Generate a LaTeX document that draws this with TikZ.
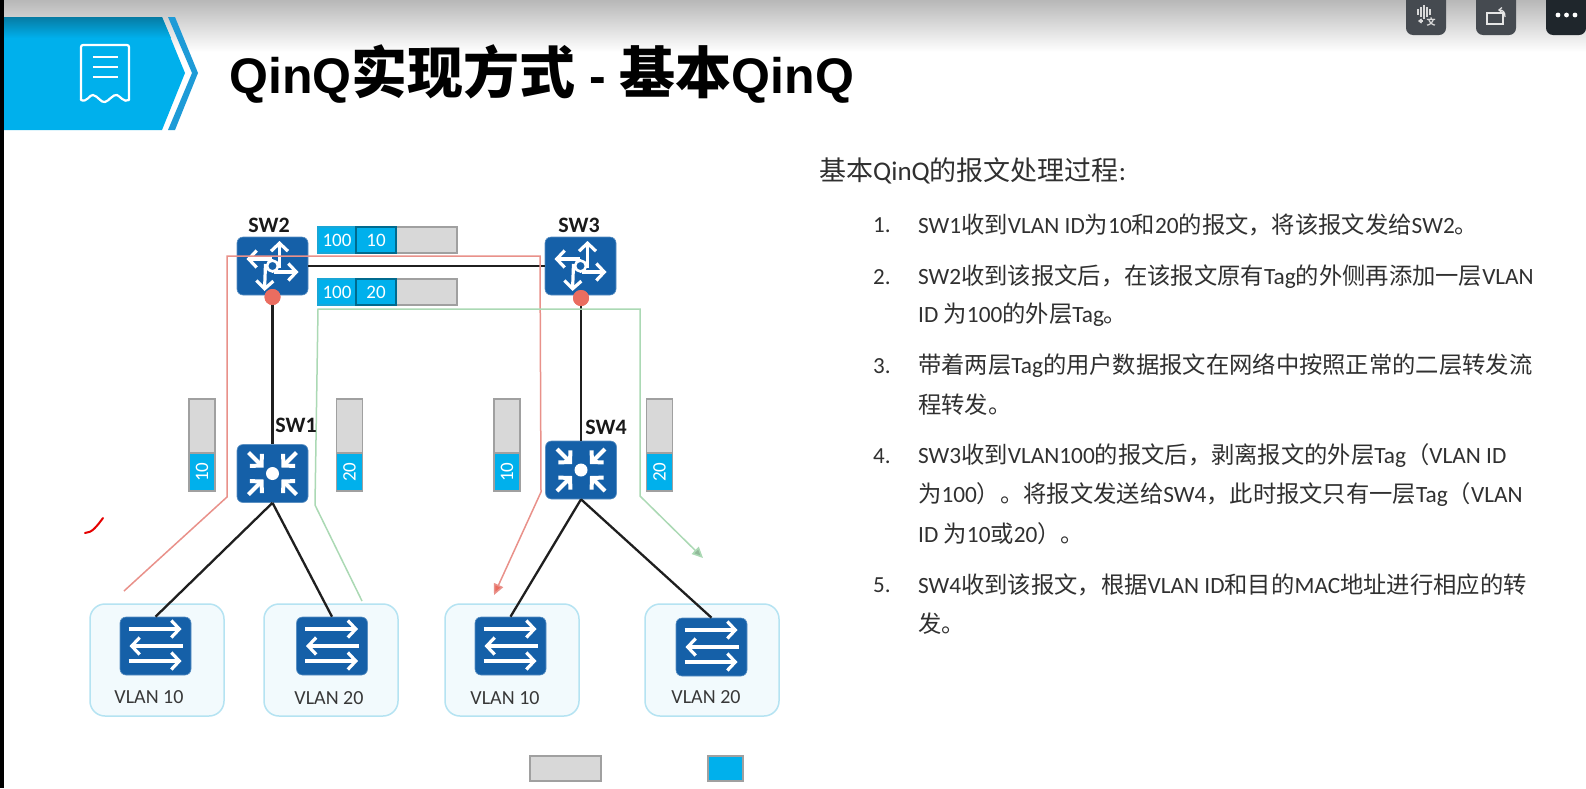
\documentclass[tikz,border=0pt]{standalone}
\usepackage{fontspec}
\setmainfont{Carlito}
\newfontfamily\cjk{Noto Sans CJK SC}
\newfontfamily\lat{Liberation Sans}
\usetikzlibrary{arrows.meta,shapes.misc}
\newcommand\C[1]{{\cjk #1}}
\newcommand\Fs[1]{\fontsize{#1}{#1}\selectfont}
\definecolor{devblue}{HTML}{1560A8}
\definecolor{tagblue}{HTML}{00B0EC}
\definecolor{taggray}{HTML}{D8D8D8}
\definecolor{tagedge}{HTML}{A0A0A0}
\definecolor{redline}{HTML}{E9918A}
\definecolor{greenline}{HTML}{ABD9B4}
\definecolor{dotred}{HTML}{EA6D60}
\definecolor{txt}{HTML}{303030}
\definecolor{cloudfill}{HTML}{F2FAFD}
\definecolor{cloudedge}{HTML}{B5E3F2}
\definecolor{chev}{HTML}{1E9BD7}
\definecolor{btna}{HTML}{454A50}
\definecolor{btnb}{HTML}{1F262C}
\tikzset{
  x=1pt,y=-1pt,
  device/.style={fill=devblue,draw=devblue!70!white,line width=0.6pt,rounded corners=6pt,minimum width=71pt,minimum height=58pt,inner sep=0pt},
  cloud/.style={fill=cloudfill,draw=cloudedge,line width=1.5pt,rounded corners=15pt,minimum width=134pt,minimum height=112pt,inner sep=0pt},
  link/.style={draw=black!88,line width=2.3pt},
  redpath/.style={draw=redline,line width=1.5pt,line join=miter},
  greenpath/.style={draw=greenline,line width=1.5pt,line join=miter},
  ico/.style={draw=white,line width=3.2pt,-{Straight Barb[length=8pt,width=17pt,line width=3.2pt]}},
  icoin/.style={draw=white,line width=4pt,-{Straight Barb[length=8pt,width=17pt,line width=4pt]}},
  swl/.style={font=\bfseries\Fs{22},text=black!90,inner sep=0pt},
  vl/.style={font=\Fs{20},text=black!78,inner sep=0pt},
  grayseg/.style={fill=taggray,draw=tagedge,line width=1.4pt,inner sep=0pt},
  blueseg/.style={fill=tagblue,draw=tagedge,line width=1.2pt,inner sep=0pt,text=white,font=\Fs{19}},
  itemnum/.style={anchor=west,inner sep=0pt,text=txt,font=\Fs{23}},
  itemtx/.style={anchor=west,inner sep=0pt,text=txt,font=\Fs{23.3}},
  btn/.style={rounded corners=7pt,inner sep=0pt},
}
\newcommand\routericon[1]{\begin{scope}[shift={(#1)}]
  \draw[ico] (7,2) -- (7,-25);
  \draw[ico] (1,6) -- (26,6);
  \draw[ico] (-7,-2) -- (-8,25);
  \draw[ico] (-1,-7) -- (-26,-7);
  \draw[draw=white,fill=devblue,line width=2.6pt] (0,0) circle (5.5);
\end{scope}}
\newcommand\hubicon[1]{\begin{scope}[shift={(#1)}]
  \foreach \sx in {-1,1}\foreach \sy in {-1,1}
    \draw[icoin] (\sx*24,\sy*21) -- (\sx*9,\sy*6);
  \fill[white] (0,0) circle (6.5);
\end{scope}}
\newcommand\swicon[1]{\begin{scope}[shift={(#1)}]
  \draw[ico] (-27,-17) -- (26,-17);
  \draw[ico] (27,0) -- (-26,0);
  \draw[ico] (-27,15) -- (26,15);
\end{scope}}
\begin{document}
\begin{tikzpicture}
\useasboundingbox (0,0) rectangle (1586,788);
\fill[white] (0,0) rectangle (1586,788);
% window top shade
\shade[top color=black!28,bottom color=white] (0,0) rectangle (1586,52);
\fill[black] (0,0) rectangle (4,788);
% banner
\fill[tagblue] (4,17) -- (162,17) -- (185,73) -- (162,130) -- (4,130) -- cycle;
\shade[top color=tagblue!70!black!95!gray,bottom color=tagblue] (4,17) -- (162,17) -- (171,38) -- (4,38) -- cycle;
\fill[chev] (168,17) -- (175,17) -- (198,73) -- (175,130) -- (168,130) -- (192,73) -- cycle;
\draw[white,line width=2.2pt,line join=round,rounded corners=2pt] (81,100) -- (81,45) -- (129,45) -- (129,100);
\draw[white,line width=2.2pt,line cap=round] (81,100) .. controls (87,103) and (90,94) .. (93,95) .. controls (98,96) and (101,103) .. (105,102) .. controls (109,101) and (113,94) .. (117,95) .. controls (120,96) and (124,103) .. (129,100);
\foreach \yy in {57,67,77}\draw[white,line width=2.2pt] (93,\yy) -- (118,\yy);
% title
\node[anchor=west,inner sep=0pt,text=black] (title) at (229,74) {\bfseries\Fs{56}{\lat\Fs{50}QinQ}\cjk 实现方式{\lat\Fs{50} - }基本{\lat\Fs{50}QinQ}};
% buttons
\fill[fill=btna,btn] (1406,-10) rectangle (1446,35);
\fill[fill=btna,btn] (1476,-10) rectangle (1516,35);
\fill[fill=btnb,btn] (1546,-10) rectangle (1586,35);
\foreach \xx in {1558,1566.5,1575}\fill[white] (\xx,15) circle (2.4);
\draw[white!90!black,line width=1.3pt] (1487,13) rectangle (1503,24);
\draw[white!90!black,line width=1.2pt,-{Straight Barb[length=3pt,width=5pt]}] (1505,17) .. controls (1505,12) and (1503,10) .. (1498,10);
\foreach \xx/\hh in {1418/3,1421/5,1424/7,1427/5,1430/3}\draw[white!85!black,line width=1.6pt] (\xx,12-\hh) -- (\xx,12+\hh);
\draw[white!85!black,line width=1.3pt,-{Straight Barb[length=2.5pt,width=4pt]}] (1423,21) -- (1418,21);
\node[inner sep=0pt,text=white!85!black,font=\cjk\bfseries\Fs{9}] (btntx) at (1431,22) {文};
% clouds
\node[cloud] (c1) at (157,660) {};
\node[cloud] (c2) at (331,660) {};
\node[cloud] (c3) at (512,660) {};
\node[cloud] (c4) at (712,660) {};
% tags
\node[grayseg,minimum width=139pt,minimum height=26pt] (t1g) at (387.5,240) {};
\node[blueseg,draw=tagblue!80!gray,minimum width=38pt,minimum height=26pt] (t1a) at (337,240) {100};
\node[blueseg,draw=tagblue!60!black,minimum width=40pt,minimum height=26pt] (t1b) at (376,240) {10};
\node[grayseg,minimum width=139pt,minimum height=26pt] (t2g) at (387.5,292) {};
\node[blueseg,draw=tagblue!80!gray,minimum width=38pt,minimum height=26pt] (t2a) at (337,292) {100};
\node[blueseg,draw=tagblue!60!black,minimum width=40pt,minimum height=26pt] (t2b) at (376,292) {20};
\foreach \nm/\xx/\lb in {v1/202/10,v2/349.5/20,v3/507/10,v4/659.5/20}{
  \node[grayseg,minimum width=26pt,minimum height=92pt] (\nm g) at (\xx,445) {};
  \node[blueseg,minimum width=38pt,minimum height=26pt,rotate=90] (\nm b) at (\xx,472) {\lb};
}
% devices
\node[device] (sw2) at (272.5,266) {};
\node[device] (sw3) at (580.5,266) {};
\node[device] (sw1) at (272.5,473.5) {};
\node[device] (sw4) at (581,470) {};
\node[device] (a1) at (155.5,646) {};
\node[device] (a2) at (332,646) {};
\node[device] (a3) at (510.5,646) {};
\node[device] (a4) at (711.5,647) {};
\node[circle,fill=dotred,inner sep=0pt,minimum size=16pt] (d2) at (272.5,297) {};
\node[circle,fill=dotred,inner sep=0pt,minimum size=16pt] (d3) at (581,298) {};
% black links
\draw[link] (sw2.east) -- (sw3.west);
\draw[link] (d2) -- (sw1.north);
\draw[link] (d3) -- (sw4.north);
\draw[link] (sw1.south) -- (a1.north);
\draw[link] (sw1.south) -- (a2.north);
\draw[link] (sw4.south) -- (a3.north);
\draw[link] (sw4.south) -- (a4.north);
% icons
\routericon{sw2.center}
\routericon{sw3.center}
\hubicon{sw1.center}
\hubicon{sw4.center}
\swicon{a1.center}
\swicon{a2.center}
\swicon{a3.center}
\swicon{a4.center}
\node[circle,fill=dotred,inner sep=0pt,minimum size=16pt] at (d2) {};
\node[circle,fill=dotred,inner sep=0pt,minimum size=16pt] at (d3) {};
% traffic paths
\coordinate (rs) at (124,591);
\coordinate (re) at (494,595);
\coordinate (gs) at (362,601);
\coordinate (ge) at (703,558);
\draw[redpath,-{Triangle[length=11pt,width=10pt,fill=dotred]}] (rs) -- (227,497) -- (227,256) -- (540,256) -- (541,492) -- (re);
\draw[greenpath,-{Triangle[length=11pt,width=10pt,fill=greenline!85!black]}] (gs) -- (315,505) -- (318,309) -- (640,309) -- (640,496) -- (ge);
% pen tick
\draw[red!90!black,line width=2pt,line cap=round] (85,533) .. controls (92,533) and (97,526) .. (103,518);
% labels
\node[swl] (l2) at (269,225) {SW2};
\node[swl] (l3) at (579,225) {SW3};
\node[swl] (l1) at (296,425) {SW1};
\node[swl] (l4) at (606,427) {SW4};
\node[vl] (n1) at (149,697) {VLAN 10};
\node[vl] (n2) at (329,698) {VLAN 20};
\node[vl] (n3) at (505,698) {VLAN 10};
\node[vl] (n4) at (706,697) {VLAN 20};
% legend
\node[grayseg,minimum width=71pt,minimum height=25pt] (lg) at (565.5,768.5) {};
\node[blueseg,minimum width=35pt,minimum height=25pt] (lb) at (725.5,768.5) {};
% right text
\node[anchor=west,inner sep=0pt,text=txt,font=\Fs{27}] (head) at (819,171) {\C{基本}QinQ\C{的报文处理过程}:};
\node[itemnum] (i1) at (873,225) {1.};
\node[itemnum] (i2) at (873,277) {2.};
\node[itemnum] (i3) at (873,366) {3.};
\node[itemnum] (i4) at (873,456) {4.};
\node[itemnum] (i5) at (873,585) {5.};
\node[itemtx] (x1) at (918,225) {SW1\C{收到}VLAN ID\C{为}10\C{和}20\C{的报文，将该报文发给}SW2\C{。}};
\node[itemtx] (x2) at (918,277) {SW2\C{收到该报文后，在该报文原有}Tag\C{的外侧再添加一层}VLAN};
\node[itemtx] (x2b) at (918,315) {ID \C{为}100\C{的外层}Tag\C{。}};
\node[itemtx] (x3) at (918,366) {\C{带着两层}Tag\C{的用户数据报文在网络中按照正常的二层转发流}};
\node[itemtx] (x3b) at (918,405) {\C{程转发。}};
\node[itemtx] (x4) at (918,456) {SW3\C{收到}VLAN100\C{的报文后，剥离报文的外层}Tag\C{（}VLAN ID};
\node[itemtx] (x4b) at (918,495) {\C{为}100\C{）。将报文发送给}SW4\C{，此时报文只有一层}Tag\C{（}VLAN};
\node[itemtx] (x4c) at (918,534) {ID \C{为}10\C{或}20\C{）。}};
\node[itemtx] (x5) at (918,585) {SW4\C{收到该报文，根据}VLAN ID\C{和目的}MAC\C{地址进行相应的转}};
\node[itemtx] (x5b) at (918,624) {\C{发。}};
\end{tikzpicture}
\end{document}
